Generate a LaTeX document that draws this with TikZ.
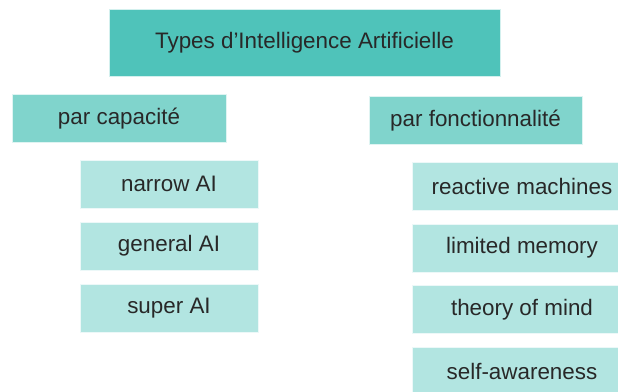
\documentclass[tikz,border=0pt]{standalone}
\usepackage{fontspec}
\setmainfont{Liberation Sans}
\definecolor{tealdark}{RGB}{79,195,186}
\definecolor{tealmid}{RGB}{128,212,204}
\definecolor{teallight}{RGB}{178,229,225}
\definecolor{textgray}{RGB}{40,40,40}
\begin{document}
\begin{tikzpicture}[x=1pt,y=-1pt,
  box/.style={rectangle, inner sep=0pt, draw=white!75!#1, line width=0.6pt, fill=#1,
    text=textgray, font=\fontsize{22.4}{25}\selectfont},
  toplevel/.style={box=tealdark, minimum width=391pt, minimum height=67pt},
  midlevel/.style={box=tealmid, minimum height=48pt},
  leaf/.style={box=teallight, minimum height=48pt},
  leftleaf/.style={leaf, minimum width=178pt},
  rightleaf/.style={leaf, minimum width=220pt}]
  \useasboundingbox (0,0) rectangle (618,391);
  \clip (0,0) rectangle (618,391);

  % root
  \node[toplevel] (root) at (304.5,42.5) {Types d’Intelligence Artificielle};

  % the two classifications
  \node[midlevel, minimum width=214pt] (cap) at (119,118.5) {par capacité};
  \node[midlevel, minimum width=213pt] (fonc) at (475.5,120.5) {par fonctionnalité};

  % by capability
  \node[leftleaf] (narrow) at (169,184) {narrow AI};
  \node[leftleaf] (general) at (169,246) {general AI};
  \node[leftleaf] (super) at (169,308) {super AI};

  % by functionality
  \node[rightleaf] (reactive) at (522,186) {reactive machines};
  \node[rightleaf] (limited) at (522,248) {limited memory};
  \node[rightleaf] (theory) at (522,309.5) {theory of mind};
  \node[rightleaf] (self) at (522,371) {self-awareness};
\end{tikzpicture}
\end{document}
